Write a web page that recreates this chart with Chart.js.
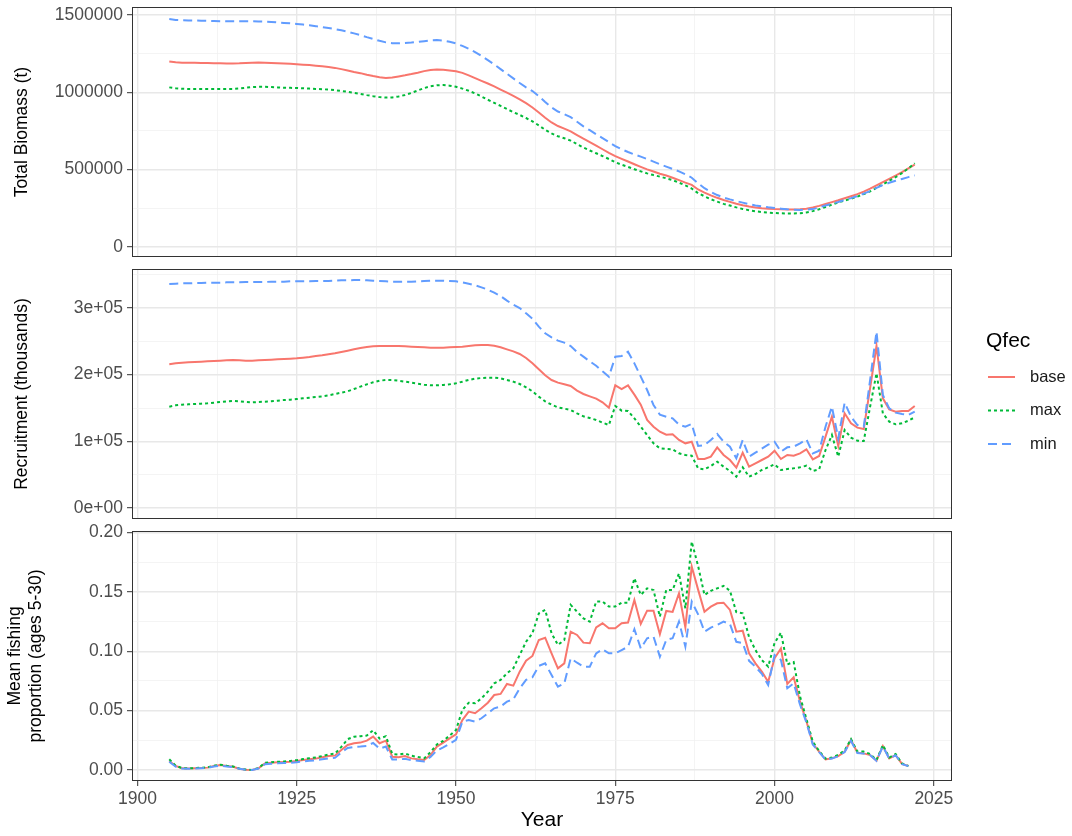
<!DOCTYPE html>
<html>
<head>
<meta charset="utf-8">
<script src="https://cdn.jsdelivr.net/npm/chart.js@4.4.1/dist/chart.umd.min.js"></script>
<style>
  html, body { margin: 0; padding: 0; background: #ffffff; }
  #wrap { position: relative; width: 1072px; height: 836px; }
  #wrap canvas { position: absolute; left: 0; top: 0; }
</style>
</head>
<body>
<div id="wrap">
  <canvas id="biomass" width="1072" height="836"></canvas>
  <canvas id="recruit" width="1072" height="836"></canvas>
  <canvas id="fishing" width="1072" height="836"></canvas>
</div>
<script>
const years = [
  1905, 1906, 1907, 1908, 1909, 1910, 1911, 1912, 1913, 1914,
  1915, 1916, 1917, 1918, 1919, 1920, 1921, 1922, 1923, 1924,
  1925, 1926, 1927, 1928, 1929, 1930, 1931, 1932, 1933, 1934,
  1935, 1936, 1937, 1938, 1939, 1940, 1941, 1942, 1943, 1944,
  1945, 1946, 1947, 1948, 1949, 1950, 1951, 1952, 1953, 1954,
  1955, 1956, 1957, 1958, 1959, 1960, 1961, 1962, 1963, 1964,
  1965, 1966, 1967, 1968, 1969, 1970, 1971, 1972, 1973, 1974,
  1975, 1976, 1977, 1978, 1979, 1980, 1981, 1982, 1983, 1984,
  1985, 1986, 1987, 1988, 1989, 1990, 1991, 1992, 1993, 1994,
  1995, 1996, 1997, 1998, 1999, 2000, 2001, 2002, 2003, 2004,
  2005, 2006, 2007, 2008, 2009, 2010, 2011, 2012, 2013, 2014,
  2015, 2016, 2017, 2018, 2019, 2020, 2021, 2022
];

// Total biomass (t)
const biomassBase = [
  1200000, 1194000, 1192000, 1192000, 1191000, 1190000, 1189000, 1188000, 1188000, 1187000,
  1187000, 1188000, 1190000, 1192000, 1193000, 1192000, 1190000, 1188000, 1186000, 1184000,
  1182000, 1179000, 1176000, 1172000, 1168000, 1164000, 1158000, 1150000, 1141000, 1132000,
  1124000, 1114000, 1105000, 1097000, 1093000, 1096000, 1103000, 1110000, 1118000, 1127000,
  1137000, 1145000, 1148000, 1146000, 1141000, 1136000, 1126000, 1110000, 1092000, 1074000,
  1057000, 1038000, 1018000, 998000, 977000, 955000, 930000, 902000, 870000, 836000,
  805000, 782000, 765000, 748000, 724000, 700000, 678000, 655000, 632000, 609000,
  588000, 570000, 553000, 535000, 518000, 502000, 488000, 474000, 462000, 448000,
  432000, 416000, 402000, 372000, 352000, 334000, 318000, 304000, 292000, 280000,
  270000, 262000, 256000, 251000, 247000, 245000, 244000, 243000, 243000, 244000,
  248000, 256000, 266000, 278000, 290000, 302000, 315000, 328000, 342000, 358000,
  377000, 398000, 420000, 441000, 462000, 484000, 508000, 532000
];
const biomassMax = [
  1032000, 1026000, 1023000, 1022000, 1022000, 1022000, 1022000, 1022000, 1022000, 1022000,
  1022000, 1025000, 1030000, 1034000, 1036000, 1036000, 1034000, 1032000, 1030000, 1029000,
  1028000, 1026000, 1024000, 1022000, 1020000, 1018000, 1014000, 1009000, 1003000, 997000,
  990000, 982000, 975000, 969000, 966000, 967000, 973000, 983000, 996000, 1012000,
  1027000, 1039000, 1046000, 1047000, 1043000, 1036000, 1024000, 1010000, 993000, 973000,
  952000, 932000, 912000, 892000, 872000, 854000, 834000, 812000, 786000, 758000,
  734000, 716000, 703000, 688000, 665000, 643000, 624000, 606000, 588000, 569000,
  548000, 532000, 518000, 503000, 489000, 476000, 465000, 455000, 444000, 432000,
  416000, 398000, 378000, 348000, 328000, 309000, 293000, 279000, 268000, 256000,
  246000, 238000, 231000, 226000, 222000, 220000, 218000, 217000, 217000, 218000,
  223000, 232000, 244000, 259000, 274000, 288000, 300000, 312000, 326000, 342000,
  360000, 382000, 405000, 428000, 452000, 478000, 508000, 541000
];
const biomassMin = [
  1474000, 1468000, 1466000, 1465000, 1464000, 1463000, 1462000, 1461000, 1460000, 1459000,
  1459000, 1459000, 1459000, 1459000, 1458000, 1457000, 1455000, 1452000, 1449000, 1446000,
  1442000, 1438000, 1433000, 1428000, 1422000, 1416000, 1409000, 1401000, 1392000, 1381000,
  1370000, 1357000, 1345000, 1333000, 1323000, 1318000, 1317000, 1319000, 1322000, 1326000,
  1331000, 1336000, 1338000, 1335000, 1327000, 1316000, 1300000, 1282000, 1260000, 1235000,
  1208000, 1180000, 1150000, 1120000, 1090000, 1060000, 1032000, 1008000, 975000, 937000,
  902000, 876000, 858000, 840000, 810000, 780000, 755000, 729000, 704000, 678000,
  652000, 632000, 614000, 598000, 584000, 569000, 552000, 535000, 520000, 505000,
  489000, 470000, 448000, 412000, 380000, 356000, 336000, 320000, 308000, 297000,
  287000, 277000, 269000, 263000, 257000, 252000, 248000, 244000, 241000, 240000,
  241000, 245000, 255000, 268000, 280000, 291000, 304000, 316000, 329000, 345000,
  362000, 382000, 401000, 415000, 428000, 440000, 452000, 463000
];

// Recruitment (thousands)
const recruitBase = [
  215500, 217000, 218000, 218500, 219000, 219500, 220000, 220500, 221000, 221500,
  222000, 221500, 221000, 221000, 221500, 222000, 222500, 223000, 223500, 224000,
  224500, 225500, 226500, 228000, 229000, 230500, 232000, 234000, 236000, 238000,
  240000, 241500, 242500, 243000, 243000, 243000, 243000, 242500, 242000, 241500,
  241000, 240500, 240500, 240500, 241000, 241500, 242000, 243000, 244000, 244500,
  244500, 243500, 241000, 238000, 235000, 231000, 225000, 217000, 208000, 199000,
  192000, 188000, 185500, 183000, 176000, 171000, 167500, 164000, 158500, 150500,
  184000, 178500, 184000, 170000, 155000, 132000, 122000, 114500, 110000, 110500,
  102000, 97000, 99500, 73500, 73500, 77000, 91000, 79500, 72000, 60500,
  83000, 62000, 67000, 72000, 77000, 86000, 73500, 79500, 78500, 82000,
  88000, 73000, 78000, 107000, 137000, 93000, 142000, 127000, 120500, 118500,
  180000, 243000, 164500, 148000, 144500, 145500, 145500, 153000
];
const recruitMax = [
  152000, 154000, 155000, 155500, 156000, 156500, 157000, 158000, 159000, 160000,
  160500, 160000, 159000, 158500, 159000, 159500, 160000, 161000, 162000, 162500,
  163500, 164500, 165500, 166500, 167500, 169000, 171000, 173000, 175000, 178500,
  182000, 185500, 188500, 191000, 192000, 192000, 191000, 189500, 188000, 186500,
  185000, 184000, 184000, 184500, 185500, 187000, 189500, 192000, 194000, 195000,
  195500, 195500, 194500, 192000, 189500, 186000, 181000, 175000, 167000, 160000,
  155000, 151000, 149000, 147000, 142000, 137500, 135000, 132000, 128000, 124500,
  153000, 146000, 145500, 134500, 122000, 109500, 97000, 89500, 88500, 88000,
  82000, 79500, 78500, 59500, 58000, 63000, 69500, 62000, 55500, 47000,
  61000, 47000, 51000, 57000, 61000, 65500, 57000, 58500, 59500, 61000,
  63500, 55500, 58000, 87000, 109500, 77000, 117000, 105500, 101000, 100500,
  152000, 202000, 142000, 129500, 125500, 127000, 131000, 136000
];
const recruitMin = [
  336000, 336500, 337000, 337000, 337500, 337500, 338000, 338000, 338000, 338500,
  338500, 338500, 339000, 339000, 339000, 339000, 339500, 339500, 339500, 340000,
  340000, 340000, 340000, 340500, 340500, 340500, 341000, 341500, 341500, 342000,
  342000, 341500, 341000, 340500, 340000, 339500, 339500, 339500, 339500, 340000,
  340500, 341000, 341000, 341000, 340500, 340000, 338500, 336500, 334000, 331000,
  327500, 323000, 318000, 311000, 305000, 300000, 292000, 284000, 272000, 262000,
  256000, 251000, 248000, 243000, 234000, 227000, 220000, 213500, 205000, 197000,
  227000, 228000, 234500, 217000, 197000, 177000, 154500, 140000, 137000, 134500,
  125000, 122000, 126000, 93000, 94500, 102000, 111000, 99500, 92000, 74500,
  102000, 77000, 83000, 89000, 95000, 99500, 84500, 91000, 92000, 97000,
  103000, 82000, 86000, 122000, 152000, 104500, 158000, 137000, 124500, 122000,
  192000, 264500, 169500, 149500, 143000, 141000, 139500, 144500
];

// Mean fishing proportion (ages 5-30), no estimate for 2022
const fishingBase = [
  0.0075, 0.0034, 0.0014, 0.0012, 0.0014, 0.0017, 0.0020, 0.0034, 0.0042, 0.0034,
  0.0028, 0.0011, 0.0003, 0.0001, 0.0014, 0.0056, 0.0062, 0.0065, 0.0067, 0.0070,
  0.0076, 0.0084, 0.0090, 0.0096, 0.0107, 0.0118, 0.0121, 0.0169, 0.0211, 0.0225,
  0.0231, 0.0247, 0.0281, 0.0225, 0.0247, 0.0112, 0.0107, 0.0118, 0.0098, 0.0090,
  0.0084, 0.0126, 0.0197, 0.0231, 0.0267, 0.0300, 0.0421, 0.0492, 0.0478, 0.0520,
  0.0567, 0.0632, 0.0641, 0.0725, 0.0711, 0.0829, 0.0921, 0.0961, 0.1096, 0.1115,
  0.0983, 0.0857, 0.0899, 0.1166, 0.1138, 0.1073, 0.1068, 0.1202, 0.1236, 0.1194,
  0.1194, 0.1236, 0.1242, 0.1433, 0.1231, 0.1343, 0.1343, 0.1144, 0.1340, 0.1332,
  0.1489, 0.1202, 0.1714, 0.1520, 0.1334, 0.1376, 0.1405, 0.1410, 0.1349, 0.1166,
  0.1174, 0.0983, 0.0899, 0.0829, 0.0744, 0.0941, 0.1025, 0.0725, 0.0781, 0.0576,
  0.0410, 0.0222, 0.0154, 0.0090, 0.0098, 0.0118, 0.0154, 0.0253, 0.0146, 0.0140,
  0.0126, 0.0079, 0.0202, 0.0098, 0.0126, 0.0051, 0.0034, null
];
const fishingMax = [
  0.0090, 0.0036, 0.0016, 0.0014, 0.0016, 0.0019, 0.0022, 0.0036, 0.0045, 0.0036,
  0.0030, 0.0012, 0.0004, 0.0001, 0.0016, 0.0060, 0.0066, 0.0069, 0.0072, 0.0076,
  0.0083, 0.0092, 0.0099, 0.0106, 0.0118, 0.0130, 0.0138, 0.0195, 0.0260, 0.0280,
  0.0285, 0.0290, 0.0335, 0.0265, 0.0285, 0.0135, 0.0130, 0.0140, 0.0120, 0.0110,
  0.0098, 0.0150, 0.0215, 0.0245, 0.0290, 0.0337, 0.0506, 0.0567, 0.0562, 0.0604,
  0.0660, 0.0730, 0.0759, 0.0815, 0.0857, 0.0969, 0.1081, 0.1152, 0.1320, 0.1349,
  0.1152, 0.1054, 0.1096, 0.1391, 0.1334, 0.1278, 0.1250, 0.1419, 0.1419, 0.1377,
  0.1377, 0.1410, 0.1410, 0.1615, 0.1475, 0.1531, 0.1517, 0.1292, 0.1517, 0.1517,
  0.1657, 0.1362, 0.1924, 0.1720, 0.1475, 0.1510, 0.1531, 0.1551, 0.1510, 0.1330,
  0.1320, 0.1120, 0.1011, 0.0927, 0.0871, 0.1070, 0.1157, 0.0890, 0.0910, 0.0620,
  0.0430, 0.0239, 0.0160, 0.0095, 0.0105, 0.0127, 0.0165, 0.0260, 0.0155, 0.0155,
  0.0135, 0.0085, 0.0210, 0.0105, 0.0135, 0.0055, 0.0034, null
];
const fishingMin = [
  0.0070, 0.0028, 0.0012, 0.0010, 0.0012, 0.0015, 0.0018, 0.0030, 0.0037, 0.0030,
  0.0025, 0.0010, 0.0002, 0.0000, 0.0012, 0.0048, 0.0053, 0.0056, 0.0058, 0.0060,
  0.0065, 0.0072, 0.0077, 0.0082, 0.0090, 0.0098, 0.0102, 0.0148, 0.0185, 0.0195,
  0.0198, 0.0203, 0.0228, 0.0180, 0.0198, 0.0088, 0.0088, 0.0095, 0.0082, 0.0078,
  0.0072, 0.0110, 0.0165, 0.0190, 0.0220, 0.0255, 0.0407, 0.0421, 0.0407, 0.0436,
  0.0478, 0.0520, 0.0534, 0.0576, 0.0596, 0.0688, 0.0759, 0.0781, 0.0877, 0.0899,
  0.0801, 0.0702, 0.0730, 0.0941, 0.0904, 0.0871, 0.0871, 0.0983, 0.1017, 0.0983,
  0.0983, 0.1011, 0.1039, 0.1186, 0.1025, 0.1110, 0.1124, 0.0955, 0.1096, 0.1110,
  0.1250, 0.1039, 0.1419, 0.1312, 0.1166, 0.1200, 0.1222, 0.1250, 0.1230, 0.1080,
  0.1070, 0.0920, 0.0870, 0.0810, 0.0716, 0.0969, 0.0927, 0.0689, 0.0730, 0.0550,
  0.0400, 0.0215, 0.0150, 0.0088, 0.0096, 0.0116, 0.0152, 0.0245, 0.0143, 0.0138,
  0.0124, 0.0078, 0.0198, 0.0096, 0.0124, 0.0050, 0.0033, null
];

// grid breaks (major + minor) and the labelled ones
const yearBreaks = [1900, 1912.5, 1925, 1937.5, 1950, 1962.5, 1975, 1987.5, 2000, 2012.5, 2025];
const yearLabels = [1900, 1925, 1950, 1975, 2000, 2025];
const biomassBreaks = [0, 250000, 500000, 750000, 1000000, 1250000, 1500000];
const biomassLabels = [0, 500000, 1000000, 1500000];
const recruitBreaks = [0, 50000, 100000, 150000, 200000, 250000, 300000, 350000];
const recruitLabels = [0, 100000, 200000, 300000];
const fishingBreaks = [0, 0.025, 0.05, 0.075, 0.10, 0.125, 0.15, 0.175, 0.20];
const fishingLabels = [0, 0.05, 0.10, 0.15, 0.20];

const FONT = '"Liberation Sans", Arial, Helvetica, sans-serif';
const colors = { base: '#F8766D', max: '#00BA38', min: '#619CFF' };
const dashes = { base: [], max: [3, 3], min: [9, 5] };

const onList = (list, v) => list.some(b => Math.abs(b - v) < 1e-7);

function series(values) {
  return years.map((yr, i) => ({ x: yr, y: values[i] }));
}

function makeDatasets(base, max, min) {
  return [
    { label: 'base', data: series(base), order: 2 },
    { label: 'max', data: series(max), order: 1 },
    { label: 'min', data: series(min), order: 0 }
  ].map(d => Object.assign(d, {
    borderColor: colors[d.label],
    borderDash: dashes[d.label],
    borderWidth: 2,
    pointRadius: 0,
    tension: 0,
    fill: false,
    spanGaps: false
  }));
}

function gridStyle(labels, drawTicks) {
  const major = c => c.tick && onList(labels, c.tick.value);
  return {
    color: c => major(c) ? '#e8e8e8' : '#f1f1f1',
    lineWidth: c => major(c) ? 1.4 : 0.8,
    drawTicks: drawTicks,
    tickLength: 5,
    tickWidth: 1,
    tickColor: c => major(c) ? '#333333' : 'rgba(0,0,0,0)'
  };
}

function xAxis(showLabels) {
  return {
    type: 'linear',
    min: 1899.15,
    max: 2027.85,
    afterBuildTicks(scale) { scale.ticks = yearBreaks.map(v => ({ value: v })); },
    ticks: {
      display: showLabels,
      autoSkip: false,
      maxRotation: 0,
      padding: 3,
      color: '#4d4d4d',
      font: { family: FONT, size: 17.5 },
      callback: v => onList(yearLabels, v) ? String(v) : ''
    },
    grid: gridStyle(yearLabels, showLabels),
    border: { display: false },
    title: {
      display: showLabels,
      text: 'Year',
      color: '#000000',
      font: { family: FONT, size: 21 },
      padding: { top: 0, bottom: 3 }
    },
    afterFit(scale) {
      scale.height = showLabels ? 55 : 0;
      scale.paddingLeft = 0;
      scale.paddingRight = 0;
    }
  };
}

function yAxis(min, max, breaks, labels, fmt, title, titlePad) {
  return {
    type: 'linear',
    min: min,
    max: max,
    afterBuildTicks(scale) { scale.ticks = breaks.map(v => ({ value: v })); },
    ticks: {
      autoSkip: false,
      padding: 4,
      color: '#4d4d4d',
      font: { family: FONT, size: 17.5 },
      callback: v => onList(labels, v) ? fmt(v) : ''
    },
    grid: gridStyle(labels, true),
    border: { display: false },
    title: {
      display: true,
      text: title,
      color: '#000000',
      font: { family: FONT, size: 17.5, lineHeight: 1.2 },
      padding: { top: titlePad, bottom: 0 }
    },
    afterFit(scale) {
      scale.width = 132;
      scale.paddingTop = 0;
      scale.paddingBottom = 0;
    }
  };
}

const panelBorder = {
  id: 'panelBorder',
  afterDraw(chart) {
    const { ctx, chartArea: a } = chart;
    ctx.save();
    ctx.strokeStyle = '#333333';
    ctx.lineWidth = 1;
    ctx.setLineDash([]);
    ctx.strokeRect(Math.round(a.left) + 0.5, Math.round(a.top) + 0.5,
      Math.round(a.right - a.left) - 1, Math.round(a.bottom - a.top) - 1);
    ctx.restore();
  }
};

const qfecLegend = {
  id: 'qfecLegend',
  afterDraw(chart) {
    const ctx = chart.ctx;
    ctx.save();
    ctx.textBaseline = 'middle';
    ctx.textAlign = 'left';
    ctx.fillStyle = '#000000';
    ctx.font = '21px ' + FONT;
    ctx.fillText('Qfec', 986, 341);
    ctx.font = '16.5px ' + FONT;
    chart.data.datasets.forEach((ds, i) => {
      const y = 377 + i * 33.5;
      ctx.strokeStyle = ds.borderColor;
      ctx.lineWidth = ds.borderWidth;
      ctx.setLineDash(ds.borderDash);
      ctx.beginPath();
      ctx.moveTo(988, y);
      ctx.lineTo(1015, y);
      ctx.stroke();
      ctx.fillStyle = '#1a1a1a';
      ctx.fillText(ds.label, 1030, y);
    });
    ctx.restore();
  }
};

function makeChart(id, datasets, y, padding, showX, extraPlugins) {
  return new Chart(document.getElementById(id), {
    type: 'line',
    data: { datasets: datasets },
    options: {
      responsive: false,
      animation: false,
      devicePixelRatio: 1,
      events: [],
      layout: { padding: padding },
      scales: { x: xAxis(showX), y: y },
      plugins: {
        legend: { display: false },
        tooltip: { enabled: false }
      }
    },
    plugins: [panelBorder].concat(extraPlugins || [])
  });
}

makeChart('biomass',
  makeDatasets(biomassBase, biomassMax, biomassMin),
  yAxis(-64655, 1551700, biomassBreaks, biomassLabels, v => String(v), 'Total Biomass (t)', 12),
  { top: 7, bottom: 579, left: 0, right: 120 }, false);

makeChart('recruit',
  makeDatasets(recruitBase, recruitMax, recruitMin),
  yAxis(-16500, 358500, recruitBreaks, recruitLabels,
    v => (v === 0 ? '0e+00' : (v / 100000) + 'e+05'), 'Recruitment (thousands)', 12),
  { top: 269, bottom: 317, left: 0, right: 120 }, false, [qfecLegend]);

makeChart('fishing',
  makeDatasets(fishingBase, fishingMax, fishingMin),
  yAxis(-0.00927, 0.2014, fishingBreaks, fishingLabels, v => v.toFixed(2),
    ['Mean fishing', 'proportion (ages 5-30)'], 5),
  { top: 531, bottom: 0, left: 0, right: 120 }, true);
</script>
</body>
</html>
